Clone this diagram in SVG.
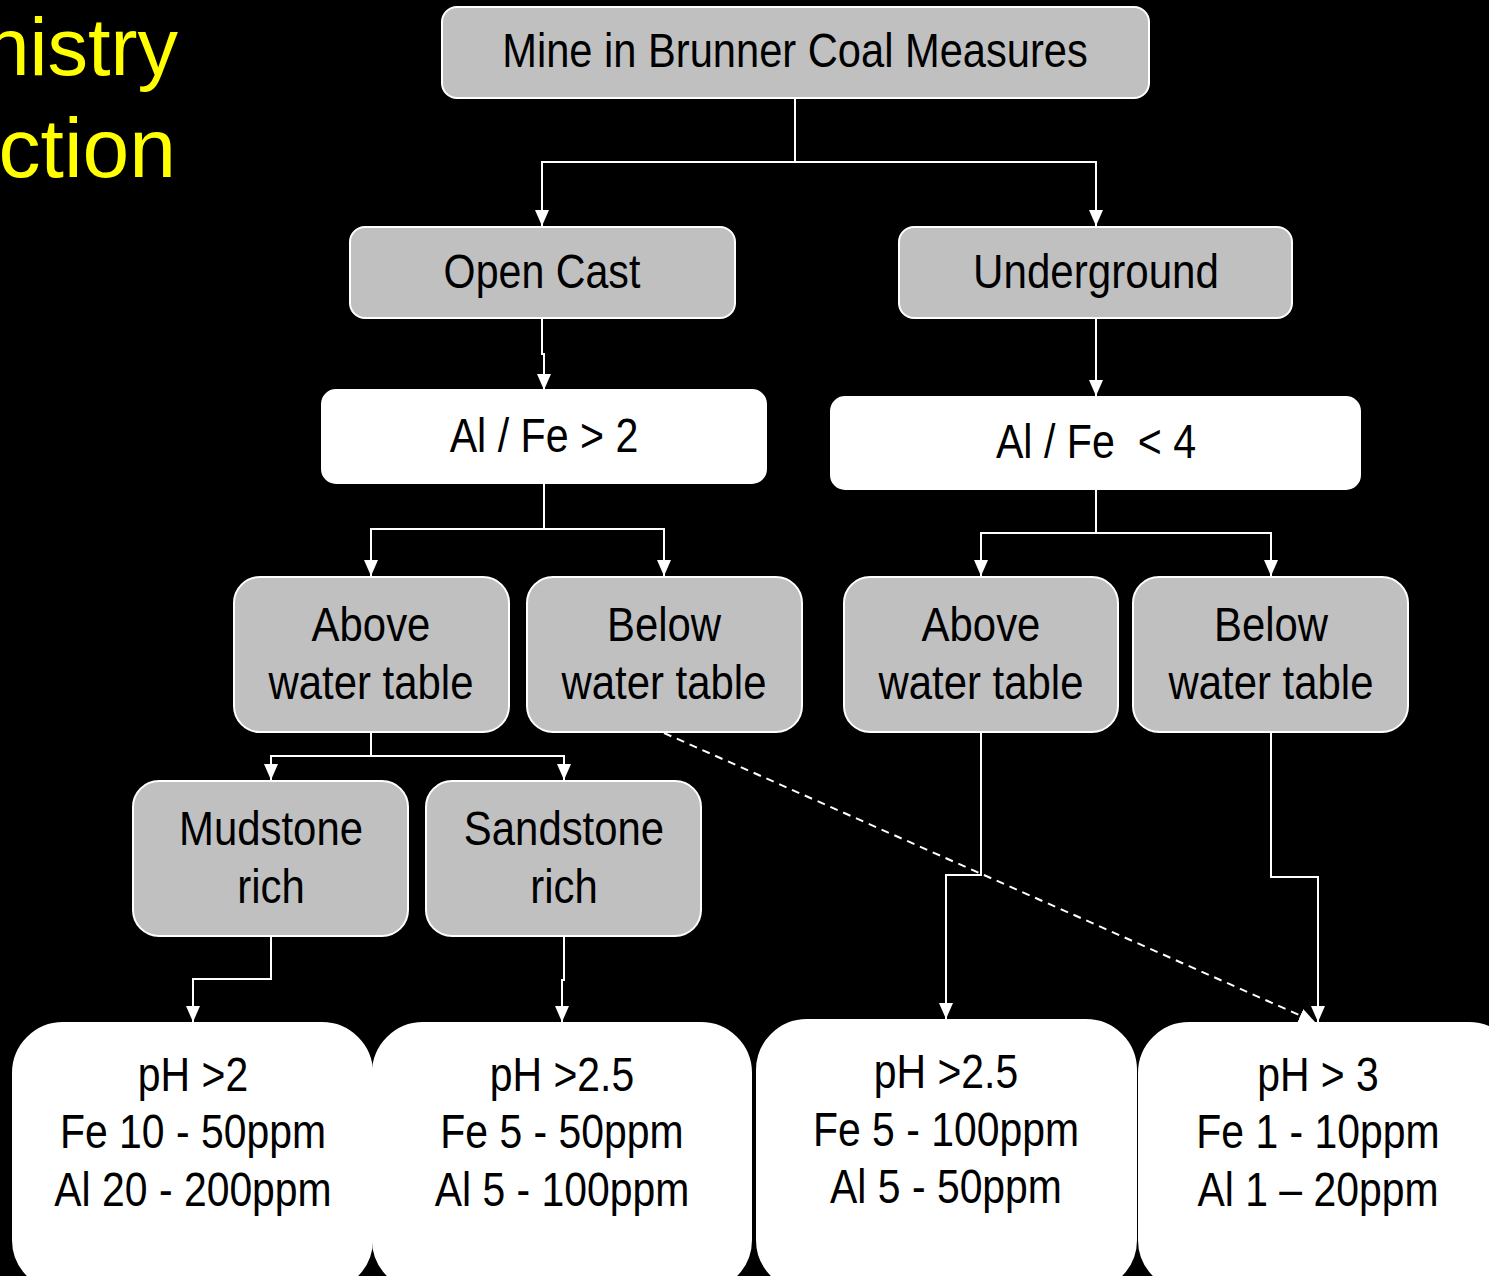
<svg xmlns="http://www.w3.org/2000/svg" width="1489" height="1276" viewBox="0 0 1489 1276">
<defs>
<marker id="arr" viewBox="0 0 16 14" refX="16" refY="7" markerWidth="16" markerHeight="14" markerUnits="userSpaceOnUse" orient="auto">
<path d="M0,0 L16,7 L0,14 z" fill="#FFFFFF"/>
</marker>
<style>
.g{fill:#C0C0C0;stroke:#FFFFFF;stroke-width:2}
.w{fill:#FFFFFF;stroke:#FFFFFF;stroke-width:2}
.t{font-family:"Liberation Sans",Arial,sans-serif;font-size:49px;fill:#000000;text-anchor:middle;white-space:pre}
.c{fill:none;stroke:#FFFFFF;stroke-width:2;marker-end:url(#arr)}
.d{fill:none;stroke:#FFFFFF;stroke-width:2;stroke-dasharray:8 6;marker-end:url(#arr)}
.y{font-family:"Liberation Sans",Arial,sans-serif;font-size:81px;fill:#FFFF00;text-anchor:end}
</style>
</defs>
<rect width="1489" height="1276" fill="#000000"/>
<text class="y" x="178" y="75">nistry</text>
<text class="y" x="176" y="177" style="font-size:84px">ction</text>

<g id="connectors">
<path class="c" d="M795,98 V162 H542 V226"/>
<path class="c" d="M795,162 H1096 V226"/>
<path class="c" d="M542,318 V354 H544 V390"/>
<path class="c" d="M1096,318 V396"/>
<path class="c" d="M544,483 V529 H371 V576"/>
<path class="c" d="M544,529 H664 V576"/>
<path class="c" d="M1096,489 V533 H981 V576"/>
<path class="c" d="M1096,533 H1271 V576"/>
<path class="c" d="M371,732 V756 H271 V780"/>
<path class="c" d="M371,756 H564 V780"/>
<path class="c" d="M271,936 V979 H193 V1022"/>
<path class="c" d="M564,936 V980 H562 V1022"/>
<path class="c" d="M981,732 V875 H946 V1019"/>
<path class="c" d="M1271,732 V877 H1318 V1022"/>
<path class="d" d="M664,733 L1315,1022"/>
</g>

<g id="n-mine"><rect class="g" x="442" y="7" width="707" height="91" rx="15"/><g transform="translate(795 0) scale(0.85 1)"><text class="t" x="0" y="67">Mine in Brunner Coal Measures</text></g></g>
<g id="n-opencast"><rect class="g" x="350" y="227" width="385" height="91" rx="15"/><g transform="translate(542 0) scale(0.84 1)"><text class="t" x="0" y="288">Open Cast</text></g></g>
<g id="n-underground"><rect class="g" x="899" y="227" width="393" height="91" rx="15"/><g transform="translate(1096 0) scale(0.86 1)"><text class="t" x="0" y="288">Underground</text></g></g>
<g id="n-alfe2"><rect class="w" x="322" y="390" width="444" height="93" rx="14"/><g transform="translate(544 0) scale(0.84 1)"><text class="t" x="0" y="452">Al / Fe &gt; 2</text></g></g>
<g id="n-alfe4"><rect class="w" x="831" y="397" width="529" height="92" rx="14"/><g transform="translate(1096 0) scale(0.84 1)"><text class="t" x="0" y="458">Al / Fe  &lt; 4</text></g></g>
<g id="n-above1"><rect class="g" x="234" y="577" width="275" height="155" rx="26"/><g transform="translate(371 0) scale(0.855 1)"><text class="t" x="0" y="641">Above</text><text class="t" x="0" y="699">water table</text></g></g>
<g id="n-below1"><rect class="g" x="527" y="577" width="275" height="155" rx="26"/><g transform="translate(664 0) scale(0.855 1)"><text class="t" x="0" y="641">Below</text><text class="t" x="0" y="699">water table</text></g></g>
<g id="n-above2"><rect class="g" x="844" y="577" width="274" height="155" rx="26"/><g transform="translate(981 0) scale(0.855 1)"><text class="t" x="0" y="641">Above</text><text class="t" x="0" y="699">water table</text></g></g>
<g id="n-below2"><rect class="g" x="1133" y="577" width="275" height="155" rx="26"/><g transform="translate(1271 0) scale(0.855 1)"><text class="t" x="0" y="641">Below</text><text class="t" x="0" y="699">water table</text></g></g>
<g id="n-mudstone"><rect class="g" x="133" y="781" width="275" height="155" rx="26"/><g transform="translate(271 0) scale(0.855 1)"><text class="t" x="0" y="845">Mudstone</text><text class="t" x="0" y="903">rich</text></g></g>
<g id="n-sandstone"><rect class="g" x="426" y="781" width="275" height="155" rx="26"/><g transform="translate(564 0) scale(0.855 1)"><text class="t" x="0" y="845">Sandstone</text><text class="t" x="0" y="903">rich</text></g></g>
<g id="n-r1"><rect class="w" x="13" y="1023" width="359" height="267" rx="50"/><g transform="translate(193 0) scale(0.835 1)"><text class="t" x="0" y="1091">pH &gt;2</text><text class="t" x="0" y="1148">Fe 10 - 50ppm</text><text class="t" x="0" y="1206">Al 20 - 200ppm</text></g></g>
<g id="n-r2"><rect class="w" x="373" y="1023" width="378" height="267" rx="50"/><g transform="translate(562 0) scale(0.835 1)"><text class="t" x="0" y="1091">pH &gt;2.5</text><text class="t" x="0" y="1148">Fe 5 - 50ppm</text><text class="t" x="0" y="1206">Al 5 - 100ppm</text></g></g>
<g id="n-r3"><rect class="w" x="757" y="1020" width="379" height="270" rx="50"/><g transform="translate(946 0) scale(0.835 1)"><text class="t" x="0" y="1088">pH &gt;2.5</text><text class="t" x="0" y="1146">Fe 5 - 100ppm</text><text class="t" x="0" y="1203">Al 5 - 50ppm</text></g></g>
<g id="n-r4"><rect class="w" x="1139" y="1023" width="380" height="267" rx="50"/><g transform="translate(1318 0) scale(0.835 1)"><text class="t" x="0" y="1091">pH &gt; 3</text><text class="t" x="0" y="1148">Fe 1 - 10ppm</text><text class="t" x="0" y="1206">Al 1 – 20ppm</text></g></g>
</svg>
